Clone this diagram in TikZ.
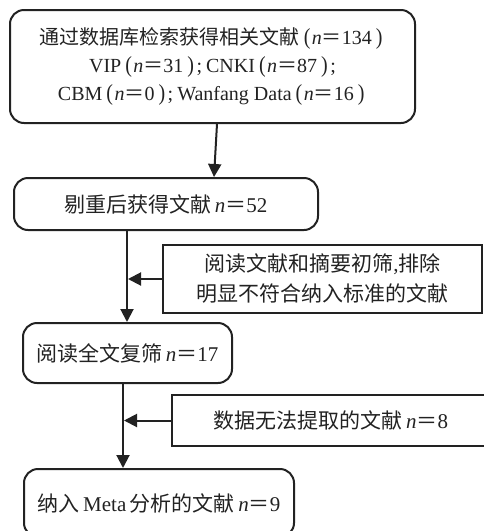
\documentclass[tikz,border=0pt]{standalone}
\usepackage{fontspec}
\setmainfont{Liberation Serif}
\newfontfamily\cjk{Noto Sans CJK SC}
\usetikzlibrary{arrows.meta}
\newcommand\cn[1]{{\cjk #1}}
\newcommand\nn{\textit{n}}
\newcommand\eqs{\cn{＝}}
\newcommand\lp{\hspace{4pt}\scalebox{1}[1.15]{(}\hspace{1.5pt}}
\newcommand\rp{\hspace{4pt}\scalebox{1}[1.15]{)}\hspace{2.5pt}}
\newcommand\sm{;\hspace{4pt}}
\definecolor{ink}{HTML}{222222}
\begin{document}
\begin{tikzpicture}[x=1pt,y=-1pt,
  box/.style={draw=ink,line width=2pt,inner sep=0pt,align=center,text=ink,font=\fontsize{21}{30}\selectfont},
  rbox/.style={box,rounded corners=14pt},
  arr/.style={draw=ink,line width=2pt,-{Triangle[width=13pt,length=13pt]}},
  ln/.style={draw=ink,line width=2pt}]
\clip (0,0) rectangle (484,531);
\useasboundingbox (0,0) rectangle (484,531);
\node[rbox,minimum width=405pt,minimum height=113pt,font=\fontsize{20}{28}\selectfont] (b1) at (212.5,66.5)
  {\raisebox{-3pt}{\cn{通过数据库检索获得相关文献}\lp\nn\eqs134\rp}\\
   \raisebox{-3pt}{VIP\lp\nn\eqs31\rp\sm CNKI\lp\nn\eqs87\rp;}\\
   \raisebox{-3pt}{CBM\lp\nn\eqs0\rp\sm Wanfang Data\lp\nn\eqs16\rp}};
\node[rbox,minimum width=304pt,minimum height=52pt] (b2) at (166,204)
  {\cn{剔重后获得文献}\,\nn\eqs52};
\node[box,minimum width=319pt,minimum height=68pt] (bA) at (322.5,279)
  {\cn{阅读文献和摘要初筛},\cn{排除}\\\cn{明显不符合纳入标准的文献}};
\node[rbox,minimum width=209pt,minimum height=60pt] (b3) at (127.5,353)
  {\cn{阅读全文复筛}\,\nn\eqs17};
\node[box,minimum width=318pt,minimum height=51pt] (bB) at (331,420.5)
  {\cn{数据无法提取的文献}\,\nn\eqs8};
\node[rbox,minimum width=270pt,minimum height=68pt] (b4) at (159,503)
  {\cn{纳入}\,Meta\,\cn{分析的文献}\,\nn\eqs9};
\coordinate (l1) at (127,0);
\coordinate (l2) at (123,0);
\draw[arr] ([xshift=4.5pt]b1.south) -- ([xshift=48pt]b2.north);
\draw[arr] (b2.south -| l1) -- (b3.north -| l1);
\draw[arr,shorten >=1pt] (bA.west) -- (bA.west -| l1);
\draw[arr] (b3.south -| l2) -- (b4.north -| l2);
\draw[arr,shorten >=1pt] (bB.west) -- (bB.west -| l2);
\end{tikzpicture}
\end{document}
